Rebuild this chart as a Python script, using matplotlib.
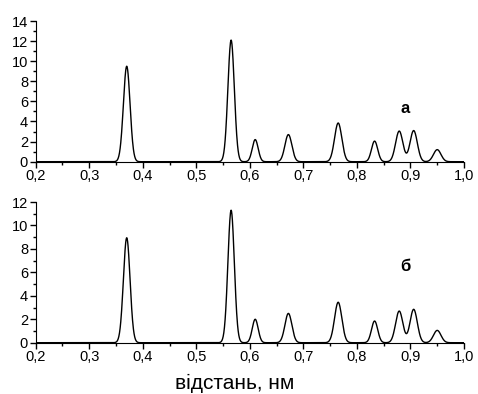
import numpy as np
import matplotlib.pyplot as plt
from matplotlib.ticker import MultipleLocator, FuncFormatter

plt.rcParams['font.family'] = ['Liberation Sans', 'DejaVu Sans']

# положення піків (нм), висоти та ширини
centers = [0.370, 0.565, 0.610, 0.672, 0.765, 0.833, 0.879, 0.906, 0.950]
heights_a = [9.5, 12.1, 2.2, 2.7, 3.85, 2.05, 3.05, 3.1, 1.2]
heights_b = [8.95, 11.3, 2.0, 2.5, 3.45, 1.85, 2.7, 2.85, 1.05]
widths = [0.0062, 0.0060, 0.0055, 0.0065, 0.0068, 0.0058, 0.0068, 0.0068, 0.0070]

r = np.linspace(0.2, 1.0, 2000)


def curve(heights):
    y = np.zeros_like(r)
    for c, h, w in zip(centers, heights, widths):
        y += h * np.exp(-0.5 * ((r - c) / w) ** 2)
    return y


comma = FuncFormatter(lambda v, p: ('%.1f' % v).replace('.', ','))

fig = plt.figure(figsize=(4.78, 3.94), dpi=100)
ax1 = fig.add_axes([0.0747, 0.5896, 0.896, 0.3571])
ax2 = fig.add_axes([0.0747, 0.1302, 0.896, 0.3571])

for ax, h, ymax, label, ly in [(ax1, heights_a, 14, 'а', 5.3),
                               (ax2, heights_b, 12, 'б', 6.5)]:
    ax.plot(r, curve(h), color='black', lw=1.0)
    ax.set_xlim(0.2, 1.0)
    ax.set_ylim(0, ymax)
    ax.spines['top'].set_visible(False)
    ax.spines['right'].set_visible(False)
    ax.xaxis.set_major_locator(MultipleLocator(0.1))
    ax.xaxis.set_minor_locator(MultipleLocator(0.05))
    ax.yaxis.set_major_locator(MultipleLocator(2))
    ax.yaxis.set_minor_locator(MultipleLocator(1))
    ax.xaxis.set_major_formatter(comma)
    ax.tick_params(which='major', direction='out', length=4, width=1, labelsize=10.5, pad=1.5)
    ax.tick_params(which='minor', direction='out', length=2.5, width=1)
    ax.text(0.89, ly, label, fontsize=12, fontweight='bold', ha='center', va='center')

ax2.set_xlabel('відстань, нм', fontsize=15, va='baseline')
ax2.xaxis.set_label_coords(0.465, -0.33)

fig.savefig('out.png', dpi=100)
